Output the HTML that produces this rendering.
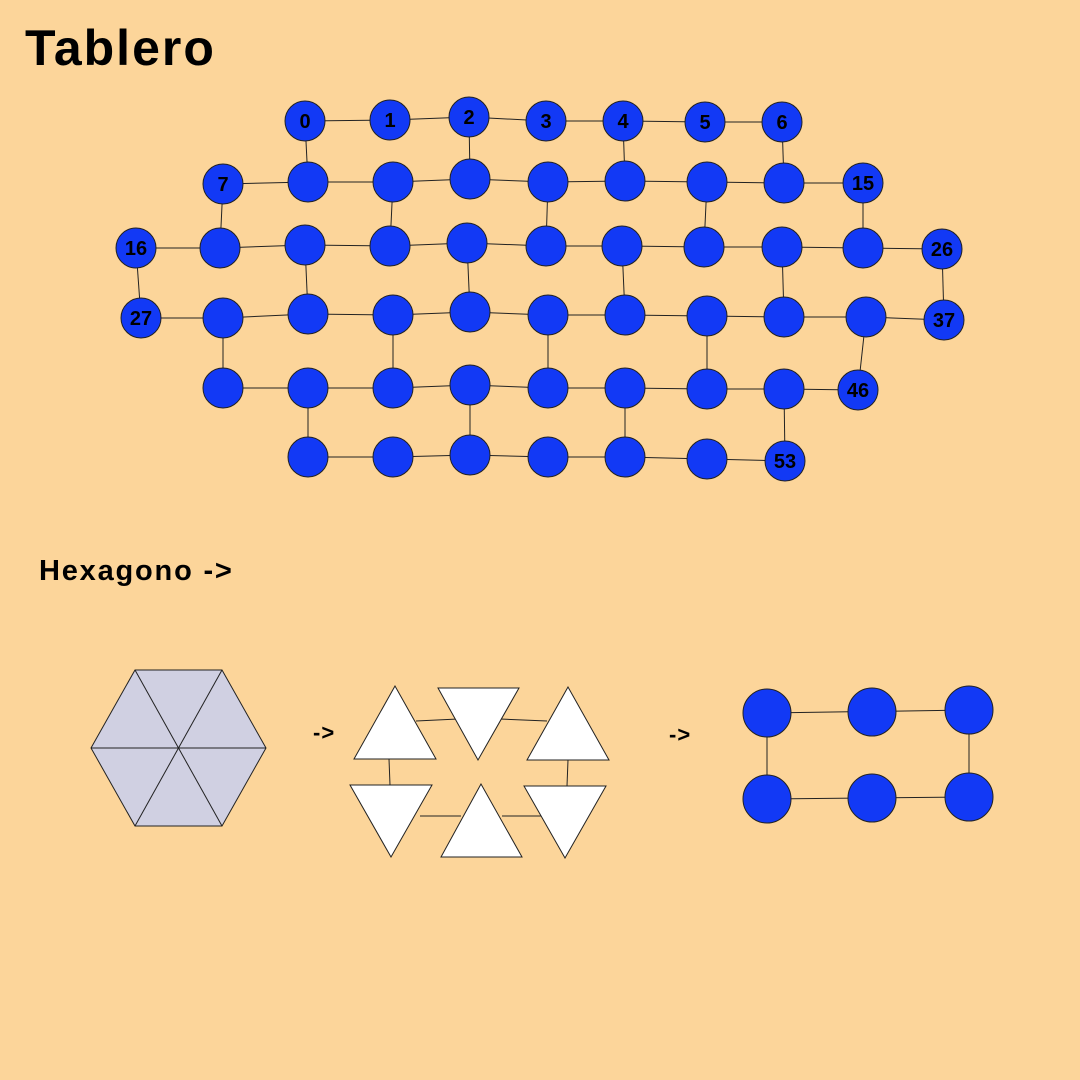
<!DOCTYPE html>
<html><head><meta charset="utf-8">
<style>
html,body{margin:0;padding:0;background:#fcd59a;}
svg{display:block;}
text{font-family:"Liberation Sans",sans-serif;}
</style></head>
<body>
<svg id="s" width="1080" height="1080" viewBox="0 0 1080 1080">
<rect width="1080" height="1080" fill="#fcd59a"/>
<text x="25" y="65" font-size="50" font-weight="bold" letter-spacing="2" fill="#000">Tablero</text>
<text x="39" y="580" font-size="29" font-weight="bold" letter-spacing="1.8" fill="#000">Hexagono -&gt;</text>
<g id="board"></g>

<g stroke="#222" stroke-width="1">
<polygon points="91,748 135,670 222,670 266,748 222,826 135,826" fill="#d0d0e2"/>
<line x1="91" y1="748" x2="266" y2="748"/>
<line x1="135" y1="670" x2="222" y2="826"/>
<line x1="222" y1="670" x2="135" y2="826"/>
</g>
<text x="313" y="740" font-size="22" font-weight="bold" letter-spacing="1">-&gt;</text>
<g stroke="#222" stroke-width="1" fill="#fff">
<line x1="416" y1="721" x2="458" y2="719"/><line x1="500" y1="719" x2="547" y2="721"/>
<line x1="389" y1="759" x2="390" y2="785"/><line x1="568" y1="760" x2="567" y2="786"/>
<line x1="420" y1="816" x2="461" y2="816"/><line x1="502" y1="816" x2="545" y2="816"/>
<polygon points="395,686 354,759 436,759"/>
<polygon points="438,688 519,688 478,760"/>
<polygon points="568,687 527,760 609,760"/>
<polygon points="350,785 432,785 391,857"/>
<polygon points="481,784 441,857 522,857"/>
<polygon points="524,786 606,786 565,858"/>
</g>
<text x="669" y="742" font-size="22" font-weight="bold" letter-spacing="1">-&gt;</text>
<g stroke="#222" stroke-width="1" fill="#1239f5">
<line x1="767" y1="713" x2="969" y2="710"/><line x1="767" y1="799" x2="969" y2="797"/>
<line x1="767" y1="713" x2="767" y2="799"/><line x1="969" y1="710" x2="969" y2="797"/>
<circle cx="767" cy="713" r="24"/><circle cx="872" cy="712" r="24"/><circle cx="969" cy="710" r="24"/>
<circle cx="767" cy="799" r="24"/><circle cx="872" cy="798" r="24"/><circle cx="969" cy="797" r="24"/>
</g>
</svg>
<script>
const nodeX=[305,390,469,546,623,705,782,
223,308,393,470,548,625,707,784,863,
136,220,305,390,467,546,622,704,782,863,942,
141,223,308,393,470,548,625,707,784,866,944,
223,308,393,470,548,625,707,784,858,
308,393,470,548,625,707,785];
const nodeY=[121,120,117,121,121,122,122,
184,182,182,179,182,181,182,183,183,
248,248,245,246,243,246,246,247,247,248,249,
318,318,314,315,312,315,315,316,317,317,320,
388,388,388,385,388,388,389,389,390,
457,457,455,457,457,459,461];
const rowStarts=[0,7,16,27,38,47,54];
const verticalEdges=[[0,8],[2,10],[4,12],[6,14],[7,17],[9,19],[11,21],[13,23],[15,25],
[16,27],[18,29],[20,31],[22,33],[24,35],[26,37],
[28,38],[30,40],[32,42],[34,44],[36,46],
[39,47],[41,49],[43,51],[45,53]];
const labeledNodes=[0,1,2,3,4,5,6,7,15,16,26,27,37,46,53];

const NS='http://www.w3.org/2000/svg';
const g=document.getElementById('board');
function mk(t,a){const e=document.createElementNS(NS,t);for(const k in a)e.setAttribute(k,a[k]);g.appendChild(e);return e;}
const edges=[];
for(let r=0;r<rowStarts.length-1;r++)for(let i=rowStarts[r];i<rowStarts[r+1]-1;i++)edges.push([i,i+1]);
verticalEdges.forEach(e=>edges.push(e));
edges.forEach(([a,b])=>{
 const l=mk('line',{x1:nodeX[a],y1:nodeY[a],x2:nodeX[b],y2:nodeY[b],stroke:'#222','stroke-width':1});
 
 
});
nodeX.forEach((x,i)=>{
 const c=mk('circle',{cx:x,cy:nodeY[i],r:20,fill:'#1239f5',stroke:'#222','stroke-width':1});
 
 
});
labeledNodes.forEach(i=>{
 const t=mk('text',{x:nodeX[i],y:nodeY[i]+7,'font-size':20,'font-weight':'bold','text-anchor':'middle',fill:'#000'});
 t.textContent=String(i);
 
 
});
</script>
</body></html>
